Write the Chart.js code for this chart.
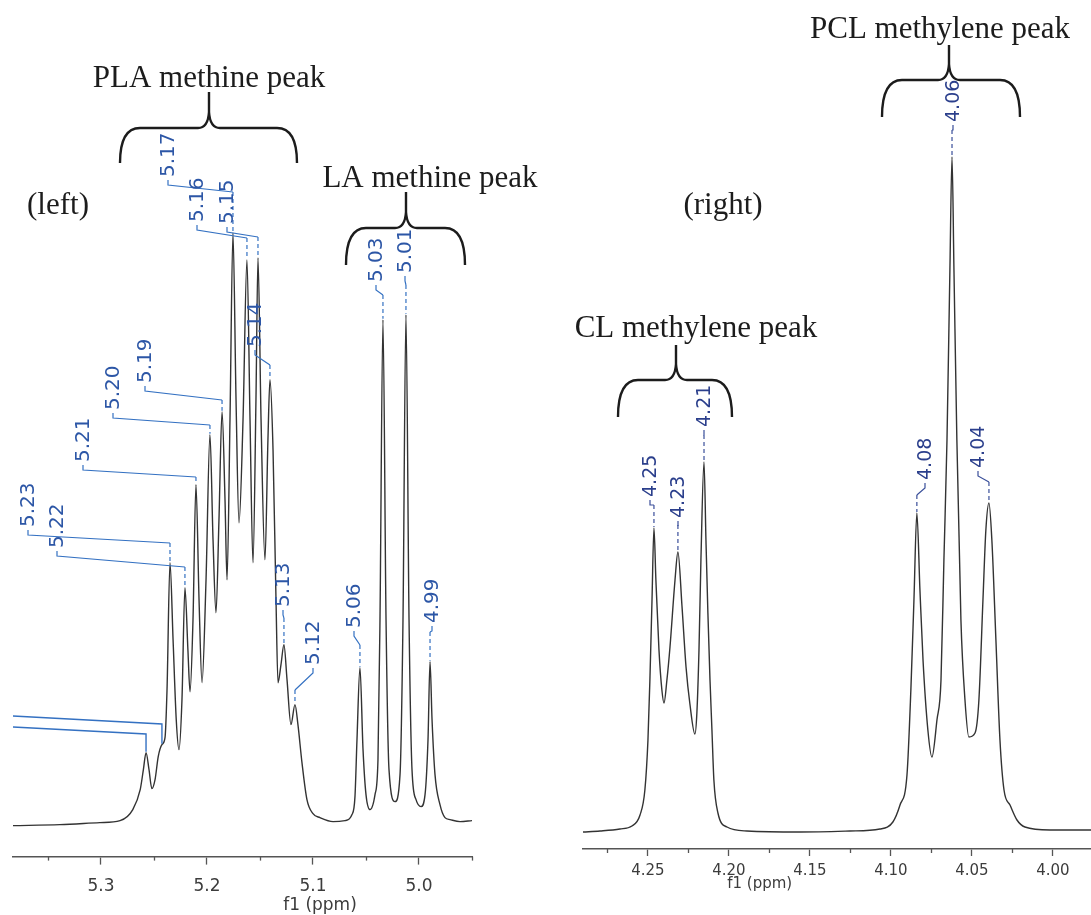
<!DOCTYPE html>
<html>
<head>
<meta charset="utf-8">
<script src="https://cdn.jsdelivr.net/npm/chart.js@4/dist/chart.umd.min.js"></script>
<style>
  html, body { margin: 0; padding: 0; background: #fff; }
  #wrap { position: relative; width: 1091px; height: 915px; overflow: hidden; }
  #left-box { position: absolute; left: 0; top: 0; width: 560px; height: 915px; }
  #right-box { position: absolute; left: 560px; top: 0; width: 531px; height: 915px; }
</style>
</head>
<body>
<div id="wrap">
  <div id="left-box"><canvas id="left-chart"></canvas></div>
  <div id="right-box"><canvas id="right-chart"></canvas></div>
</div>
<script>
// left spectrum (ppm / intensity)
var leftShift = [5.383, 5.3387, 5.301, 5.282, 5.270, 5.263, 5.260, 5.2575, 5.2547, 5.252, 5.249, 5.246, 5.2425, 5.2396, 5.2377,
  5.2349, 5.232, 5.229, 5.2264, 5.2236, 5.2208, 5.218, 5.216, 5.2132, 5.2104, 5.2075, 5.2047, 5.2009, 5.1972, 5.1943,
  5.1915, 5.1887, 5.1858, 5.183, 5.1811, 5.1783, 5.1755, 5.1726, 5.1698, 5.166, 5.1623, 5.1594, 5.1566, 5.1538, 5.1519,
  5.149, 5.1453, 5.1425, 5.1406, 5.1377, 5.1349, 5.133, 5.1302, 5.1274, 5.1245, 5.1208, 5.117, 5.1142, 5.1104, 5.1057,
  5.1, 5.0934, 5.0811, 5.0698, 5.0632, 5.0604, 5.0585, 5.0557, 5.0528, 5.05, 5.0462, 5.0415, 5.0387, 5.0368, 5.034,
  5.0311, 5.0283, 5.0226, 5.0179, 5.0151, 5.0123, 5.0094, 5.0066, 5.0028, 4.9981, 4.9943, 4.9915, 4.9896, 4.9877, 4.9849,
  4.9802, 4.9755, 4.9708, 4.9613, 4.95];
var leftIntensity = [0, 1, 3, 5, 16, 36, 56, 73, 56, 37, 46, 69, 81, 88, 136,
  263, 186, 106, 76, 126, 238, 176, 134, 206, 341, 226, 143, 246, 391, 286,
  213, 306, 414, 326, 246, 406, 593, 426, 303, 406, 566, 406, 263, 426, 568,
  406, 266, 386, 446, 376, 226, 143, 161, 181, 146, 101, 121, 101, 63, 26,
  12, 8, 4, 5, 11, 29, 86, 158, 76, 31, 16, 31, 66, 206, 506,
  206, 56, 24, 51, 206, 511, 206, 56, 26, 19, 31, 86, 164, 106, 51,
  21, 8, 6, 4, 5];

// right spectrum
var rightShift = [4.2901, 4.2796, 4.2673, 4.2599, 4.2549, 4.2519, 4.25, 4.2488, 4.2475, 4.2463, 4.2451, 4.2432, 4.2414, 4.2401,
  4.2383, 4.2364, 4.2333, 4.2315, 4.229, 4.2265, 4.2241, 4.221, 4.2198, 4.2185, 4.2173, 4.2154, 4.2142, 4.213, 4.2117,
  4.2105, 4.2093, 4.2068, 4.2012, 4.1889, 4.1562, 4.1253, 4.1068, 4.0988, 4.0944, 4.0901, 4.0877, 4.0858, 4.084, 4.0821,
  4.0802, 4.0772, 4.0747, 4.0716, 4.0691, 4.0673, 4.0654, 4.0636, 4.0623, 4.0611, 4.0593, 4.0568, 4.0543, 4.0519, 4.0481,
  4.0457, 4.0432, 4.0414, 4.0395, 4.0377, 4.0352, 4.0327, 4.0302, 4.0265, 4.0222, 4.0173, 4.0019, 3.9765];
var rightIntensity = [0, 1, 3, 6, 17, 42, 92, 152, 232, 304, 252, 182, 142, 129,
  152, 185, 252, 280, 226, 165, 128, 98, 119, 182, 272, 370, 292, 219, 152,
  102, 52, 19, 5, 1, 0, 1, 3, 10, 27, 57, 142, 232, 319, 242,
  172, 102, 75, 112, 152, 272, 392, 562, 675, 562, 392, 212, 132, 95, 99,
  132, 232, 302, 329, 292, 192, 92, 42, 27, 12, 5, 2, 2];

// peak labels
var leftPeakText = ['5.23', '5.22', '5.21', '5.20', '5.19', '5.17', '5.16', '5.15', '5.14', '5.13', '5.12', '5.06', '5.03', '5.01', '4.99'];
var leftPeakShift = [5.2349, 5.2208, 5.2104, 5.1972, 5.1858, 5.1755, 5.1623, 5.1519, 5.1406, 5.1274, 5.117, 5.0557, 5.034, 5.0123, 4.9896];
var leftEdgePeakShift = [5.2425, 5.2575];
var rightPeakText = ['4.25', '4.23', '4.21', '4.08', '4.06', '4.04'];
var rightPeakShift = [4.2463, 4.2315, 4.2154, 4.084, 4.0623, 4.0395];

var leftGroups = ['PLA methine peak', 'LA methine peak'];
var rightGroups = ['CL methylene peak', 'PCL methylene peak'];

function closestIntensity(shifts, values, ppm) {
  var best = 0;
  for (var i = 1; i < shifts.length; i++) {
    if (Math.abs(shifts[i] - ppm) < Math.abs(shifts[best] - ppm)) best = i;
  }
  return values[best];
}

function isMajor(v, step) {
  var n = Math.round(v * 1000);
  return n % Math.round(step * 1000) === 0;
}

function drawBrace(ctx, b) {
  ctx.beginPath();
  ctx.moveTo(b.x1, b.yEnd);
  ctx.quadraticCurveTo(b.x1, b.yTop, b.x1 + 20, b.yTop);
  ctx.lineTo(b.xMid - 11, b.yTop);
  ctx.quadraticCurveTo(b.xMid - 1, b.yTop, b.xMid, b.yTop - 16);
  ctx.lineTo(b.xMid, b.yMid);
  ctx.moveTo(b.xMid, b.yTop - 16);
  ctx.quadraticCurveTo(b.xMid + 1, b.yTop, b.xMid + 11, b.yTop);
  ctx.lineTo(b.x2 - 20, b.yTop);
  ctx.quadraticCurveTo(b.x2, b.yTop, b.x2, b.yEnd);
  ctx.stroke();
}

var notesPlugin = {
  id: 'notes',
  afterDraw: function(chart, args, opts) {
    var ctx = chart.ctx;
    var xs = chart.scales.x;
    var ys = chart.scales.y;
    var ox = opts.originX;
    ctx.save();

    // minor ticks
    ctx.strokeStyle = '#555';
    ctx.lineWidth = 1.3;
    xs.ticks.forEach(function(t) {
      if (isMajor(t.value, opts.majorStep)) return;
      var px = Math.round(xs.getPixelForValue(t.value)) + 0.5;
      ctx.beginPath();
      ctx.moveTo(px, xs.top);
      ctx.lineTo(px, xs.top + opts.minorLen);
      ctx.stroke();
    });

    // axis title
    ctx.fillStyle = '#3c3c3c';
    ctx.font = opts.titleFont + ' "DejaVu Sans", sans-serif';
    ctx.textAlign = 'center';
    ctx.textBaseline = 'middle';
    ctx.fillText('f1 (ppm)', xs.getPixelForValue(opts.titleAt), opts.titleY);

    // peak labels with leader lines
    ctx.font = opts.labelFont + ' "DejaVu Sans", sans-serif';
    opts.text.forEach(function(txt, i) {
      var spot = opts.spots[i];
      var tx = spot[0] - ox, tyb = spot[1], bend = spot[2];
      var px = xs.getPixelForValue(opts.shift[i]);
      var top = ys.getPixelForValue(closestIntensity(opts.series[0], opts.series[1], opts.shift[i]));
      ctx.save();
      ctx.translate(tx, tyb);
      ctx.rotate(-Math.PI / 2);
      ctx.fillStyle = opts.labelColor;
      ctx.textAlign = 'left';
      ctx.textBaseline = 'middle';
      ctx.fillText(txt, 0, 1);
      ctx.restore();
      ctx.strokeStyle = opts.leaderColor;
      ctx.lineWidth = 1.2;
      ctx.setLineDash([]);
      ctx.beginPath();
      ctx.moveTo(tx, tyb + 3);
      ctx.lineTo(tx, tyb + 8);
      ctx.lineTo(px, bend);
      ctx.stroke();
      ctx.setLineDash([4, 3]);
      ctx.beginPath();
      ctx.moveTo(px, bend);
      ctx.lineTo(px, top - 1);
      ctx.stroke();
      ctx.setLineDash([]);
    });
    (opts.edgeShift || []).forEach(function(ppm, i) {
      var spot = opts.edgeSpots[i];
      var px = xs.getPixelForValue(ppm);
      var top = ys.getPixelForValue(closestIntensity(opts.series[0], opts.series[1], ppm));
      ctx.strokeStyle = opts.leaderColor;
      ctx.lineWidth = 1.4;
      ctx.beginPath();
      ctx.moveTo(chart.chartArea.left, spot[0]);
      ctx.lineTo(px, spot[1]);
      ctx.lineTo(px, top - 1);
      ctx.stroke();
    });

    // group names and braces
    ctx.fillStyle = '#1c1c1c';
    ctx.strokeStyle = '#1c1c1c';
    ctx.lineWidth = 2.4;
    ctx.font = '31px "Liberation Serif", "Times New Roman", serif';
    ctx.textAlign = 'center';
    ctx.textBaseline = 'alphabetic';
    opts.captions.forEach(function(c) {
      ctx.fillText(c.text, c.x - ox, c.y);
    });
    opts.braces.forEach(function(b) {
      drawBrace(ctx, {x1: b.x1 - ox, x2: b.x2 - ox, xMid: b.xMid - ox, yTop: b.yTop, yEnd: b.yEnd, yMid: b.yMid});
    });
    ctx.restore();
  }
};

function makeSpectrum(canvasId, shifts, values, xr, yr, axis, notes) {
  var points = shifts.map(function(s, i) { return {x: s, y: values[i]}; });
  return new Chart(document.getElementById(canvasId), {
    type: 'line',
    data: {
      datasets: [{
        data: points,
        borderColor: '#333',
        borderWidth: 1.4,
        pointRadius: 0,
        fill: false,
        cubicInterpolationMode: 'monotone'
      }]
    },
    options: {
      responsive: true,
      maintainAspectRatio: false,
      animation: false,
      devicePixelRatio: 1,
      layout: { padding: axis.padding },
      plugins: {
        legend: { display: false },
        tooltip: { enabled: false },
        notes: notes
      },
      scales: {
        x: {
          type: 'linear',
          reverse: true,
          min: xr[0],
          max: xr[1],
          border: { display: true, color: '#555', width: 1.6 },
          grid: {
            drawOnChartArea: false,
            drawTicks: true,
            tickLength: axis.tickLength,
            tickWidth: 1.3,
            tickColor: function(c) {
              return c.tick && isMajor(c.tick.value, axis.majorStep) ? '#555' : 'rgba(0,0,0,0)';
            }
          },
          ticks: {
            stepSize: axis.minorStep,
            includeBounds: false,
            autoSkip: false,
            maxRotation: 0,
            padding: axis.tickPadding,
            color: '#3c3c3c',
            font: { family: '"DejaVu Sans", sans-serif', size: axis.fontSize, lineHeight: 1.2 },
            callback: function(v) {
              return isMajor(v, axis.majorStep) ? v.toFixed(axis.decimals) : '';
            }
          }
        },
        y: { display: false, min: yr[0], max: yr[1] }
      }
    },
    plugins: [notesPlugin]
  });
}

makeSpectrum('left-chart', leftShift, leftIntensity, [4.95, 5.383], [-31, 826],
  { padding: {left: 13, right: 88, top: 0, bottom: 6}, tickLength: 8, tickPadding: 12, fontSize: 17,
    minorStep: 0.05, majorStep: 0.1, decimals: 1 },
  {
    originX: 0, majorStep: 0.1, minorLen: 4, titleAt: 5.0934, titleY: 906, titleFont: '17px',
    labelFont: '20px', labelColor: '#2c56a6', leaderColor: '#3471c2',
    series: [leftShift, leftIntensity],
    text: leftPeakText, shift: leftPeakShift,
    spots: [[28, 527, 543], [57, 548, 567], [83, 462, 477], [113, 410, 425], [145, 383, 400], [168, 177, 192],
      [197, 222, 238], [227, 224, 237], [255, 347, 365], [283, 607, 618], [313, 665, 690], [354, 628, 645],
      [376, 282, 295], [405, 273, 285], [432, 623, 632]],
    edgeShift: leftEdgePeakShift, edgeSpots: [[716, 724], [727, 734]],
    captions: [{text: leftGroups[0], x: 209, y: 87}, {text: leftGroups[1], x: 430, y: 187}, {text: '(left)', x: 58, y: 214}],
    braces: [{x1: 120, x2: 297, xMid: 209, yTop: 128, yEnd: 163, yMid: 92},
      {x1: 346, x2: 465, xMid: 406, yTop: 228, yEnd: 265, yMid: 192}]
  });

makeSpectrum('right-chart', rightShift, rightIntensity, [3.9765, 4.2901], [-17, 832],
  { padding: {left: 23, right: 0, top: 0, bottom: 29}, tickLength: 7, tickPadding: 6, fontSize: 15,
    minorStep: 0.025, majorStep: 0.05, decimals: 2 },
  {
    originX: 560, majorStep: 0.05, minorLen: 4, titleAt: 4.181, titleY: 884, titleFont: '15px',
    labelFont: '19px', labelColor: '#2b3f8c', leaderColor: '#3a4f9a',
    series: [rightShift, rightIntensity],
    text: rightPeakText, shift: rightPeakShift,
    spots: [[650, 497, 505], [678, 518, 525], [704, 427, 435], [925, 480, 495], [953, 122, 130], [978, 468, 482]],
    captions: [{text: rightGroups[0], x: 696, y: 337}, {text: rightGroups[1], x: 940, y: 38}, {text: '(right)', x: 723, y: 214}],
    braces: [{x1: 618, x2: 732, xMid: 676, yTop: 380, yEnd: 417, yMid: 345},
      {x1: 882, x2: 1020, xMid: 949, yTop: 80, yEnd: 117, yMid: 45}]
  });
</script>
</body>
</html>
